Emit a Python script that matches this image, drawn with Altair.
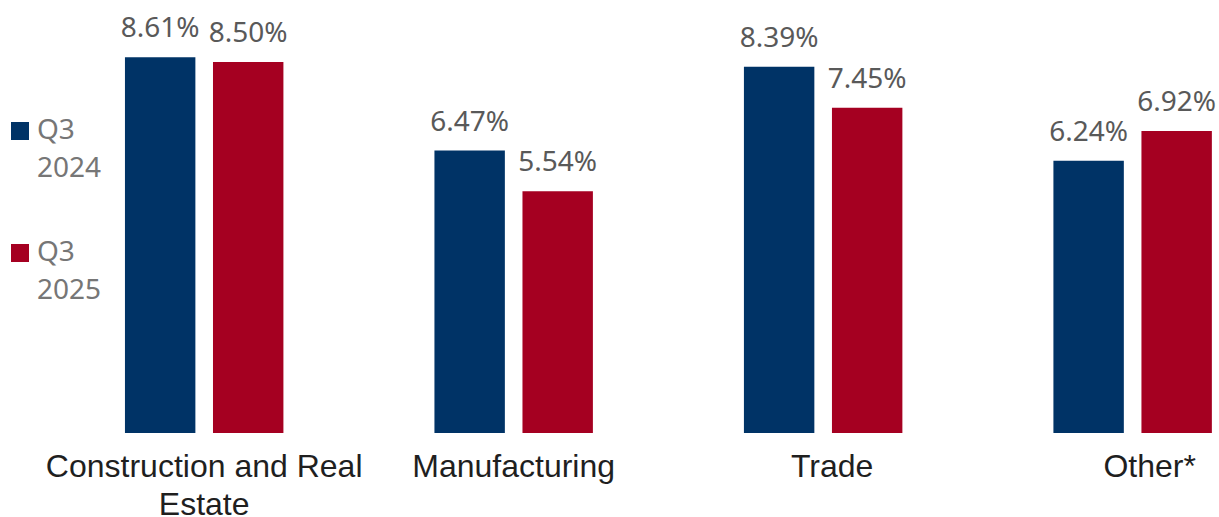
import altair as alt
import pandas as pd

categories = ["Construction and Real Estate", "Manufacturing", "Trade", "Other*"]
series = ["Q3 2024", "Q3 2025"]
values_2024 = [8.61, 6.47, 8.39, 6.24]
values_2025 = [8.50, 5.54, 7.45, 6.92]
colors = ["#003366", "#A50021"]

rows = []
for c, a, b in zip(categories, values_2024, values_2025):
    rows.append({"category": c, "period": series[0], "value": a})
    rows.append({"category": c, "period": series[1], "value": b})
df = pd.DataFrame(rows)

x = alt.X(
    "category:N",
    sort=categories,
    scale=alt.Scale(paddingInner=0.488, paddingOuter=0.2134, align=0.946),
    axis=alt.Axis(
        title=None, domain=False, ticks=False, labelAngle=0,
        labelFont="Liberation Sans", labelFontSize=32, labelColor="#1f1f1f",
        labelPadding=18, labelLineHeight=38, labelLimit=0,
        labelOffset={
            "condition": [
                {"test": "datum.label == 'Trade'", "value": 9},
                {"test": "datum.label == 'Other*'", "value": 17},
            ],
            "value": 0,
        },
        labelExpr="datum.label == 'Construction and Real Estate' ? ['Construction and Real', 'Estate'] : datum.label",
    ),
)
xo = alt.XOffset("period:N", sort=series, scale=alt.Scale(paddingInner=0.2, paddingOuter=0))
y = alt.Y("value:Q", scale=alt.Scale(domain=[0, 9.92]), axis=None)

bars = alt.Chart(df).mark_bar().encode(
    x=x, xOffset=xo, y=y,
    color=alt.Color(
        "period:N", sort=series,
        scale=alt.Scale(domain=series, range=colors),
        legend=alt.Legend(
            title=None, orient="none", legendX=6, legendY=117, padding=0,
            symbolType="square", symbolSize=324, symbolStrokeWidth=0,
            labelFont="Noto Sans", labelFontSize=28, labelColor="#767676",
            labelOffset=3, rowPadding=56,
            labelExpr="split(datum.label, ' ')",
        ),
    ),
)

labels = alt.Chart(df).transform_calculate(
    txt="format(datum.value, '.2f') + '%'"
).mark_text(
    baseline="alphabetic", dy=-20, font="Noto Sans", fontSize=28, color="#595959"
).encode(x=x, xOffset=xo, y=y, text="txt:N")

chart = alt.layer(bars, labels).properties(
    width=1219, height=433, padding=0
).configure(
    style={"guide-label": {"lineHeight": 38}}
).configure_view(stroke=None)

chart.save("out.html", embed_options={"renderer": "svg", "actions": False})
